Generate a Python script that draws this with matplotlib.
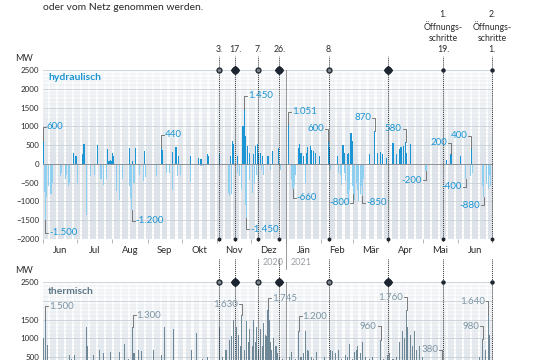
import numpy as np
import pandas as pd
import matplotlib.pyplot as plt

plt.rcParams['font.family'] = ['Lato', 'DejaVu Sans']

# day 0 = 1 June 2020
start = pd.Timestamp('2020-06-01')

hydro_pos_days = [0, 27, 29, 35, 36, 48, 57, 58, 59, 60, 61, 62, 76, 79, 81, 89, 104, 105, 114, 117,
                  119, 130, 137, 139, 145, 146, 155, 165, 167, 168, 171, 176, 177, 178, 180, 182, 185,
                  187, 189, 190, 191, 193, 198, 202, 207, 216, 225, 226, 227, 229, 232, 233, 235, 236,
                  238, 240, 243, 251, 252, 259, 264, 265, 268, 269, 271, 272, 287, 292, 294, 297, 299,
                  302, 308, 311, 314, 315, 317, 319, 320, 323, 355, 359, 367, 377]
hydro_pos_mw = [600, 290, 200, 270, 520, 490, 400, 80, 100, 90, 300, 200, 430, 80, 430, 340, 440, 360, 310, 450,
                200, 220, 160, 140, 250, 200, 250, 200, 600, 520, 200, 1000, 1450, 740, 470, 280, 250,
                470, 520, 280, 300, 200, 200, 340, 430, 1051, 430, 520, 280, 200, 300, 450, 470, 380,
                350, 300, 200, 600, 450, 200, 490, 280, 250, 280, 830, 600, 250, 870, 280, 320, 250,
                160, 560, 250, 400, 450, 480, 580, 300, 520, 100, 250, 200, 430]

hydro_neg_days = [1, 2, 3, 5, 7, 8, 15, 16, 20, 21, 22, 23, 30, 38, 42, 45, 51, 53, 56, 65, 67, 70, 76,
                  77, 78, 80, 85, 88, 90, 100, 109, 111, 114, 118, 121, 130, 139, 141, 163, 164, 166,
                  171, 173, 175, 178, 179, 182, 184, 186, 188, 190, 192, 194, 200, 209, 219, 220, 221,
                  222, 231, 253, 260, 262, 263, 265, 266, 268, 269, 270, 272, 273, 274, 276, 277, 278,
                  279, 280, 281, 282, 337, 372, 376, 378, 387, 388, 390, 392, 393, 394]
hydro_neg_mw = [-750, -1500, -870, -600, -800, -500, -330, -250, -400, -300, -600, -500, -500, -1350, -330,
                -300, -400, -550, -400, -720, -950, -400, -600, -900, -1220, -500, -300, -450, -350, -330,
                -250, -250, -700, -330, -300, -470, -60, -60, -770, -860, -800, -240, -330, -680, -1100,
                -1450, -420, -770, -500, -300, -420, -150, -300, -150, -150, -420, -660, -560, -300, -500,
                -150, -250, -300, -550, -250, -450, -800, -1000, -700, -600, -800, -950, -500, -700, -1000,
                -800, -600, -850, -400, -200, -400, -330, -250, -600, -880, -500, -680, -300, -600]

thermal_days = [0, 2, 4, 10, 14, 18, 23, 25, 28, 33, 38, 39, 44, 47, 50, 53, 59, 62, 67, 72, 75, 79, 80,
                84, 87, 92, 97, 100, 104, 107, 110, 115, 120, 125, 131, 135, 140, 145, 150, 155, 158,
                161, 164, 166, 168, 170, 172, 174, 175, 177, 179, 181, 182, 184, 185, 187, 188, 190,
                191, 193, 194, 196, 197, 198, 199, 200, 201, 203, 205, 206, 208, 211, 214, 217, 219,
                222, 225, 227, 229, 231, 233, 234, 236, 238, 241, 245, 248, 253, 255, 257, 260, 263,
                266, 268, 270, 272, 274, 276, 277, 279, 281, 284, 287, 290, 293, 297, 300, 303, 305,
                308, 311, 314, 316, 318, 320, 321, 323, 325, 327, 329, 331, 334, 338, 343, 347, 351,
                356, 362, 370, 376, 381, 384, 387, 389, 392, 393]
thermal_mw = [1020, 1500, 830, 400, 350, 300, 560, 450, 560, 400, 1290, 800, 560, 350, 690, 600, 640, 400,
              640, 850, 450, 1300, 600, 700, 650, 400, 700, 350, 560, 1290, 400, 1250, 350, 400, 700, 1150,
              450, 500, 400, 1290, 500, 700, 950, 1050, 1500, 1300, 1100, 800, 1630, 700, 1450, 900, 1250,
              800, 1500, 900, 1300, 700, 1250, 800, 1400, 1100, 1050, 1745, 1500, 900, 700, 1000, 800,
              600, 500, 450, 400, 500, 640, 450, 1200, 500, 600, 1190, 700, 650, 500, 450, 640, 400, 500,
              700, 650, 600, 680, 450, 560, 500, 850, 450, 640, 700, 800, 600, 900, 500, 450, 500, 400,
              960, 450, 560, 600, 450, 500, 900, 1200, 1000, 1760, 1300, 1100, 800, 1200, 700, 800, 500,
              400, 350, 300, 380, 300, 250, 300, 350, 400, 500, 980, 700, 1640, 1100]

# callouts: day, bar value, label level, text, side of text
hydro_notes = [(0, 600, 990, '600', 'r'), (2, -1500, -1840, '-1.500', 'r'),
               (78, -1220, -1520, '-1.200', 'r'), (104, 440, 780, '440', 'r'),
               (177, 1450, 1820, '1.450', 'r'), (179, -1450, -1740, '-1.450', 'r'),
               (216, 1051, 1390, '1.051', 'r'), (220, -660, -900, '-660', 'r'),
               (251, 600, 940, '600', 'l'), (273, -800, -1040, '-800', 'l'),
               (281, -850, -1040, '-850', 'r'), (292, 870, 1230, '870', 'l'),
               (319, 580, 940, '580', 'l'), (337, -200, -430, '-200', 'l'),
               (359, 250, 560, '200', 'l'), (377, 430, 750, '400', 'l'),
               (372, -400, -610, '-400', 'l'), (388, -880, -1100, '-880', 'l')]
thermal_notes = [(2, 1500, 1855, '1.500', 'r'), (79, 1300, 1610, '1.300', 'r'),
                 (175, 1630, 1910, '1.630', 'l'), (198, 1745, 2070, '1.745', 'r'),
                 (225, 1200, 1590, '1.200', 'r'), (297, 960, 1320, '960', 'l'),
                 (320, 1760, 2100, '1.760', 'l'), (351, 380, 700, '380', 'l'),
                 (387, 980, 1320, '980', 'l'), (392, 1640, 1990, '1.640', 'l')]

event_dates = ['2020-11-03', '2020-11-17', '2020-12-07', '2020-12-26', '2021-02-08',
               '2021-04-01', '2021-05-19', '2021-07-01']
event_labels = ['3.', '17.', '7.', '26.', '8.', '', '1.\nÖffnungs-\nschritte\n19.',
                '2.\nÖffnungs-\nschritte\n1.']
event_kinds = ['soft', 'hard', 'soft', 'hard', 'soft', 'hard', 'open', 'open']

month_names = ['Jun', 'Jul', 'Aug', 'Sep', 'Okt', 'Nov', 'Dez', 'Jän', 'Feb', 'Mär', 'Apr', 'Mai', 'Jun']

HYDRO_POS = '#1b95d3'
HYDRO_NEG = '#8fd0f0'
THERMAL = '#6f8898'
INK = '#2b2b2b'


def day_of(d):
    return (pd.Timestamp(d) - start).days


event_days = [day_of(d) for d in event_dates]
month_starts = [day_of(d) for d in pd.date_range('2020-06-01', '2021-07-01', freq='MS')]
month_mids = [(a + b) / 2 for a, b in zip(month_starts[:-1], month_starts[1:])]
year_day = day_of('2021-01-01')
XMAX = 396


def style_panel(ax):
    ax.set_xlim(-0.5, XMAX)
    ax.set_ylim(-2000, 2500)
    for w in range(0, XMAX, 7):
        ax.axvspan(w - 0.5, w + 4.5, color='#dde3e9', lw=0, zorder=0)
    grad = np.ones((100, 2, 4))
    a = np.clip((np.linspace(1, 0, 100) - 0.45) / 0.55, 0, 1) * 0.9
    grad[:, :, 3] = a[:, None]
    ax.imshow(grad, extent=[0, 1, 0, 1], transform=ax.transAxes, aspect='auto', zorder=0.5)
    for y in range(-2000, 2501, 100):
        major = y % 500 == 0
        ax.axhline(y, color='#c8cfd7' if major else '#dde2e7', lw=0.6 if major else 0.35, zorder=1)
    ax.set_xlim(-0.5, XMAX)
    ax.set_ylim(-2000, 2500)
    for s in ax.spines.values():
        s.set_visible(False)
    ax.tick_params(axis='y', length=0, pad=2.5, labelsize=5.8, labelcolor=INK)


def callout(ax, note, color):
    day, tip, level, text, side = note
    dx = 2.6 if side == 'r' else -2.6
    ax.plot([day, day, day + dx], [tip, level, level], color='#666', lw=0.6, zorder=4, clip_on=False)
    ax.text(day + dx * 1.3, level, text, ha='left' if side == 'r' else 'right', va='center',
            color=color, fontsize=7, zorder=5)


def event_marks(ax, y):
    for d, k in zip(event_days, event_kinds):
        if k == 'hard':
            ax.plot(d, y, marker='D', ms=4.0, color='#1d2630', zorder=6, clip_on=False)
            ax.plot(d, y, marker='o', ms=4.4, color='#1d2630', zorder=6, clip_on=False)
        elif k == 'soft':
            ax.plot(d, y, marker='o', ms=3.6, mfc='#7a8088', mec='#1d2630', mew=0.9, zorder=6, clip_on=False)
        else:
            ax.plot(d, y, marker='o', ms=2.2, color='#1d2630', zorder=6, clip_on=False)


fig = plt.figure(figsize=(5.4, 3.6), dpi=100)
fig.text(43 / 540, 1 - 7 / 360, 'oder vom Netz genommen werden.', fontsize=7.5, color=INK, va='center')

# hydraulic panel
ax_h = fig.add_axes([42.5 / 540, 1 - 239 / 360, 450.5 / 540, 169 / 360])
style_panel(ax_h)
ax_h.bar(hydro_pos_days, hydro_pos_mw, width=0.95, color=HYDRO_POS, lw=0, zorder=2)
ax_h.bar(hydro_neg_days, hydro_neg_mw, width=0.95, color=HYDRO_NEG, lw=0, zorder=2)
ax_h.axhline(0, color='#8a9096', lw=0.7, zorder=3)
ax_h.set_yticks(range(-2000, 2501, 500))
ax_h.set_xticks(month_mids)
ax_h.set_xticklabels(month_names)
ax_h.set_xticks(month_starts, minor=True)
ax_h.tick_params(axis='x', which='major', length=0, pad=5, labelsize=6.8, labelcolor=INK)
ax_h.tick_params(axis='x', which='minor', length=3, width=0.5, color='#999')
ax_h.text(0.012, 0.953, 'hydraulisch', transform=ax_h.transAxes, fontsize=7.5, fontweight='bold',
          color=HYDRO_POS, va='center', zorder=5)
ax_h.text(-0.04, 1.07, 'MW', transform=ax_h.transAxes, fontsize=6.5, color=INK, ha='center', va='center')
for n in hydro_notes:
    callout(ax_h, n, HYDRO_POS)
for d, lab in zip(event_days, event_labels):
    ax_h.axvline(d, ymin=-0.012, ymax=1.08, color='#333', lw=0.7, ls=(0, (1, 1)), zorder=4, clip_on=False)
    ax_h.text(d, 1.093, lab, transform=ax_h.get_xaxis_transform(), ha='center', va='bottom',
              fontsize=6.3, color=INK, linespacing=1.3)
event_marks(ax_h, 2500)
ax_h.plot(event_days, [-2000] * len(event_days), 'o', ms=1.8, color='#1d2630', zorder=6, clip_on=False)
ax_h.axvline(year_day, ymin=-0.175, ymax=1.0, color='#888', lw=0.6, zorder=4, clip_on=False)
ax_h.text(year_day - 2.5, -0.142, '2020', transform=ax_h.get_xaxis_transform(), ha='right', va='center',
          fontsize=6.5, color='#9aa0a6')
ax_h.text(year_day + 4, -0.142, '2021', transform=ax_h.get_xaxis_transform(), ha='left', va='center',
          fontsize=6.5, color='#9aa0a6')

# thermal panel (runs past the bottom edge, as in the original)
ax_t = fig.add_axes([42.5 / 540, 1 - 451 / 360, 450.5 / 540, 169 / 360])
style_panel(ax_t)
ax_t.bar(thermal_days, thermal_mw, width=0.95, color=THERMAL, lw=0, zorder=2)
ax_t.set_yticks([500, 1000, 1500, 2500])
ax_t.set_xticks([])
ax_t.text(0.012, 0.941, 'thermisch', transform=ax_t.transAxes, fontsize=7.5, fontweight='bold',
          color='#5f7888', va='center', zorder=5)
ax_t.text(-0.04, 1.07, 'MW', transform=ax_t.transAxes, fontsize=6.5, color=INK, ha='center', va='center')
for n in thermal_notes:
    callout(ax_t, n, '#7d95a4')
for d in event_days:
    ax_t.axvline(d, ymin=0, ymax=1.136, color='#333', lw=0.7, ls=(0, (1, 1)), zorder=4, clip_on=False)
event_marks(ax_t, 2500)
ax_t.axvline(year_day, ymin=0, ymax=1.0, color='#888', lw=0.6, zorder=4)

fig.savefig('out.png', dpi=100)
